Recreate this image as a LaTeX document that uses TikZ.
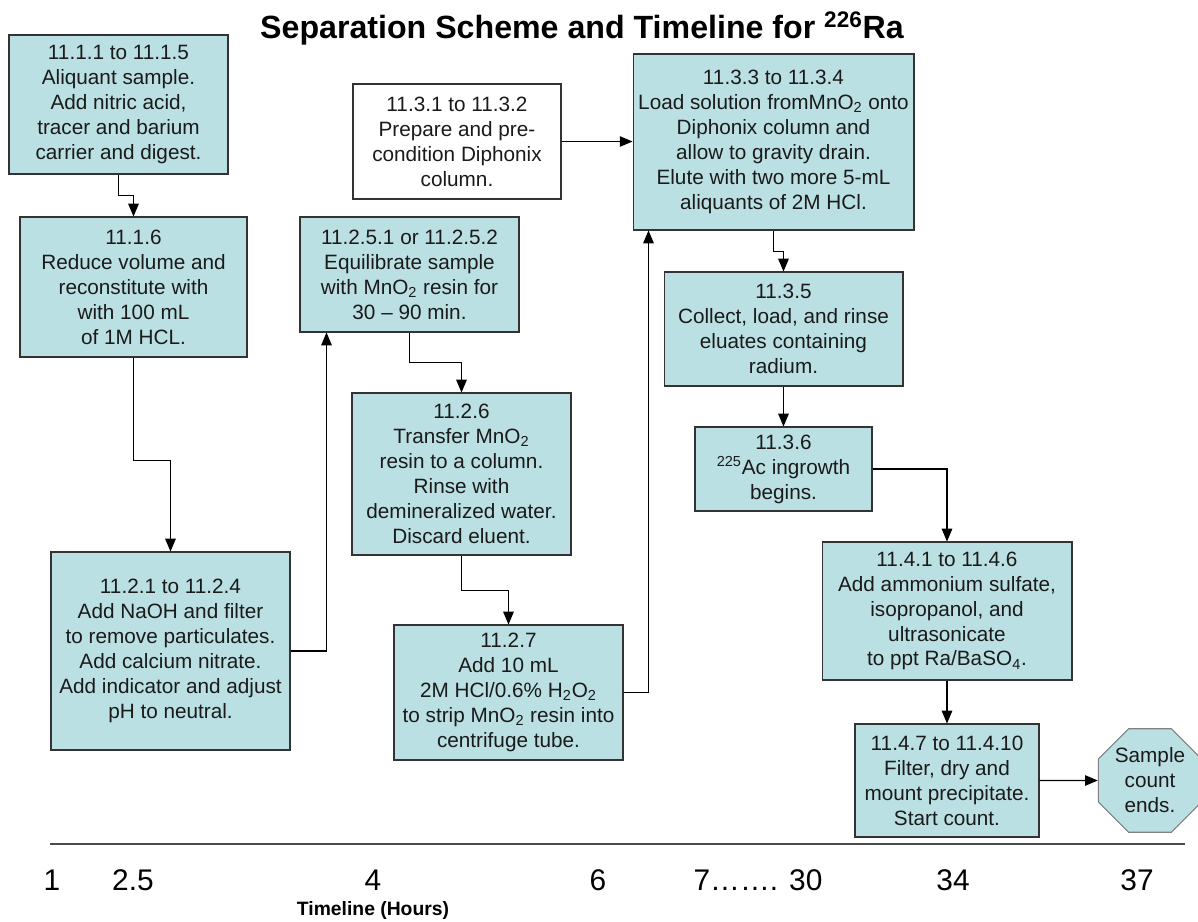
\documentclass[tikz,border=0pt]{standalone}
\usepackage{fontspec}
\setmainfont{Liberation Sans}
\usepackage{tikz}
\usetikzlibrary{shapes,arrows}
\usepackage{color}
\definecolor{boxfill}{HTML}{BBE0E3}
\definecolor{boxline}{HTML}{333333}
\definecolor{boxtext}{HTML}{1A1A1A}

\begin{document}
\begin{tikzpicture}[x=0.02cm,y=-0.02cm,
    stepbox/.style={draw=boxline,fill=boxfill,line width=0.6pt,inner sep=0pt,
      align=center,text=boxtext,font=\fontsize{11.8}{14.2}\selectfont},
    prepbox/.style={stepbox,fill=white},
    stopsign/.style={regular polygon,regular polygon sides=8,draw=gray,fill=boxfill,
      line width=0.6pt,inner sep=0pt,minimum size=2.24cm,align=center,
      text=boxtext,font=\fontsize{11.8}{14.2}\selectfont},
    arr/.style={-triangle 45,line width=0.65pt},
    hour/.style={font=\fontsize{17}{20}\selectfont}]
  \useasboundingbox (0,0) rectangle (1198,922);

  % title
  \node[font=\bfseries\fontsize{18.3}{21}\selectfont] (title) at (582,28)
    {Separation Scheme and Timeline for \textsuperscript{226}Ra};

  % steps
  \node[stepbox,minimum width=4.38cm,minimum height=2.78cm] (s111) at (118.5,104.5)
    {11.1.1 to 11.1.5\\Aliquant sample.\\Add nitric acid,\\tracer and barium\\carrier and digest.};
  \node[stepbox,minimum width=4.54cm,minimum height=2.80cm] (s116) at (133.5,287)
    {11.1.6\\Reduce volume and\\reconstitute with\\with 100 mL\\of 1M HCL.};
  \node[prepbox,minimum width=4.16cm,minimum height=2.30cm] (s331) at (457,141.5)
    {11.3.1 to 11.3.2\\Prepare and pre-\\condition Diphonix\\column.};
  \node[stepbox,minimum width=4.38cm,minimum height=2.30cm] (s2251) at (409.5,274.5)
    {11.2.5.1 or 11.2.5.2\\Equilibrate sample\\with MnO\textsubscript{2} resin for\\30 -- 90 min.};
  \node[stepbox,minimum width=5.62cm,minimum height=3.52cm] (s333) at (773.5,142)
    {11.3.3 to 11.3.4\\Load solution fromMnO\textsubscript{2} onto\\Diphonix column and\\allow to gravity drain.\\Elute with two more 5-mL\\aliquants of 2M HCl.};
  \node[stepbox,minimum width=4.78cm,minimum height=3.96cm] (s221) at (170.5,651)
    {11.2.1 to 11.2.4\\Add NaOH and filter\\to remove particulates.\\Add calcium nitrate.\\Add indicator and adjust\\pH to neutral.};
  \node[stepbox,minimum width=4.38cm,minimum height=3.24cm] (s226) at (461.5,474)
    {11.2.6\\Transfer MnO\textsubscript{2}\\resin to a column.\\Rinse with\\demineralized water.\\Discard eluent.};
  \node[stepbox,minimum width=4.58cm,minimum height=2.70cm] (s227) at (508.5,692.5)
    {11.2.7\\Add 10 mL\\2M HCl/0.6\% H\textsubscript{2}O\textsubscript{2}\\to strip MnO\textsubscript{2} resin into\\centrifuge tube.};
  \node[stepbox,minimum width=4.78cm,minimum height=2.28cm] (s335) at (783.5,329)
    {11.3.5\\Collect, load, and rinse\\eluates containing\\radium.};
  \node[stepbox,minimum width=3.54cm,minimum height=1.68cm] (s336) at (783.5,469)
    {11.3.6\\\textsuperscript{225}Ac ingrowth\\begins.};
  \node[stepbox,minimum width=5.00cm,minimum height=2.76cm] (s441) at (947,611)
    {11.4.1 to 11.4.6\\Add ammonium sulfate,\\isopropanol, and\\ultrasonicate\\to ppt Ra/BaSO\textsubscript{4}.};
  \node[stepbox,minimum width=3.68cm,minimum height=2.26cm] (s447) at (947,780.5)
    {11.4.7 to 11.4.10\\Filter, dry and\\mount precipitate.\\Start count.};
  \node[stopsign] (stop) at (1150,780.5) {Sample\\count\\ends.};

  % arrows
  \draw[arr] (s111.south) -- ++(0,21) -| (s116.north);
  \draw[arr] (s116.south) -- ++(0,103) -| (s221.north);
  \draw[arr] (s221.east) -| ([xshift=0.54cm]s2251.south west);
  \draw[arr] (s2251.south) -- ++(0,30) -| (s226.north);
  \draw[arr] (s226.south) -- ++(0,35) -| (s227.north);
  \draw[arr] (s227.east) -| ([xshift=0.32cm]s333.south west);
  \draw[arr] (s331.east) -- (s333.west |- s331.east);
  \draw[arr] (s333.south) -- ++(0,21) -| (s335.north);
  \draw[arr] (s335.south) -- (s336.north);
  \draw[arr] (s336.east) -| (s441.north);
  \draw[arr] (s441.south) -- (s447.north);
  \draw[arr] (s447.east) -- (stop.west);

  % timeline
  \coordinate (tstart) at (50,844);
  \coordinate (tend) at (1185,844);
  \draw[line width=0.8pt,black!70] (tstart) -- (tend);
  \node[hour] (h1) at (52,880) {1};
  \node[hour] (h2) at (133,880) {2.5};
  \node[hour] (h4) at (373,880) {4};
  \node[hour] (h6) at (598,880) {6};
  \node[hour] (h7) at (758,880) {7……. 30};
  \node[hour] (h34) at (953,880) {34};
  \node[hour] (h37) at (1137,880) {37};
  \node[font=\bfseries\fontsize{11}{13}\selectfont] (hours) at (373,911) {Timeline (Hours)};
\end{tikzpicture}
\end{document}
